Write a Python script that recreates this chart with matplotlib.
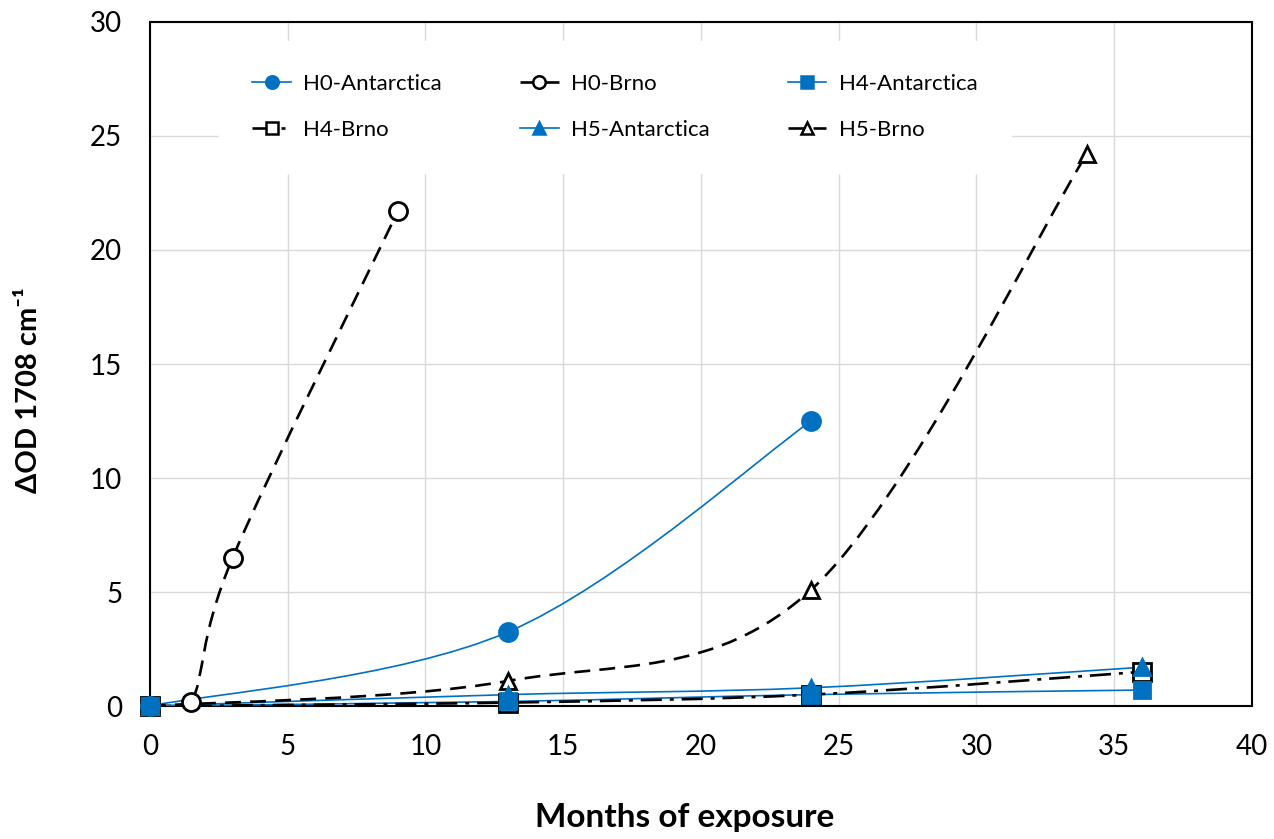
import numpy as np
import matplotlib
matplotlib.use("Agg")
import matplotlib.pyplot as plt
from matplotlib.path import Path
from matplotlib.patches import PathPatch
from matplotlib.lines import Line2D

plt.rcParams['font.family'] = ['Lato', 'DejaVu Sans']

# data
h0_ant_x = [0, 13, 24]
h0_ant_y = [0, 3.25, 12.5]
h0_brno_x = [0, 1.5, 3, 9]
h0_brno_y = [0, 0.17, 6.5, 21.7]
h4_ant_x = [0, 13, 24, 36]
h4_ant_y = [0, 0.2, 0.5, 0.7]
h4_brno_x = [0, 13, 24, 36]
h4_brno_y = [0, 0.15, 0.5, 1.5]
h5_ant_x = [0, 13, 24, 36]
h5_ant_y = [0, 0.5, 0.8, 1.7]
h5_brno_x = [0, 13, 24, 34]
h5_brno_y = [0, 1.1, 5.1, 24.2]

BLUE = '#0070C0'


def smooth_path(xs, ys):
    # Excel style smoothed line: Catmull-Rom segments as cubic Beziers
    pts = np.column_stack([xs, ys]).astype(float)
    n = len(pts)
    verts = [pts[0]]
    codes = [Path.MOVETO]
    for i in range(n - 1):
        p0 = pts[i - 1] if i > 0 else pts[i]
        p1 = pts[i]
        p2 = pts[i + 1]
        p3 = pts[i + 2] if i + 2 < n else pts[i + 1]
        c1 = p1 + (p2 - p0) / 6.0
        c2 = p2 - (p3 - p1) / 6.0
        verts += [c1, c2, p2]
        codes += [Path.CURVE4] * 3
    return Path(verts, codes)


fig = plt.figure(figsize=(12.74, 8.39), dpi=100)
ax = fig.add_axes([0.1177, 0.1585, 0.865, 0.8153])

# name, x, y, colour, linestyle, linewidth, marker, face, size
series = [
    ('H0-Antarctica', h0_ant_x, h0_ant_y, BLUE, '-', 1.2, 'o', BLUE, 13),
    ('H0-Brno', h0_brno_x, h0_brno_y, 'black', (0, (6, 3.5)), 1.9, 'o', 'white', 13),
    ('H4-Antarctica', h4_ant_x, h4_ant_y, BLUE, '-', 1.2, 's', BLUE, 11),
    ('H4-Brno', h4_brno_x, h4_brno_y, 'black', (0, (8, 3, 1.5, 3)), 1.9, 's', 'white', 13),
    ('H5-Antarctica', h5_ant_x, h5_ant_y, BLUE, '-', 1.2, '^', BLUE, 11),
    ('H5-Brno', h5_brno_x, h5_brno_y, 'black', (0, (6, 3.5)), 1.9, '^', 'white', 12),
]

handles = {}
for name, xs, ys, col, ls, lw, mk, mfc, ms in series:
    patch = PathPatch(smooth_path(xs, ys), fill=False, edgecolor=col,
                      linestyle=ls, linewidth=lw, zorder=3)
    ax.add_patch(patch)
    blue = mfc == BLUE
    mec = col if blue else 'black'
    ax.plot(xs, ys, linestyle='none', marker=mk, markersize=ms,
            markerfacecolor=mfc, markeredgecolor=mec, markeredgewidth=2,
            zorder=5 if blue else 4, clip_on=False)
    handles[name] = Line2D([], [], color=col, linestyle=ls, linewidth=lw,
                           marker=mk, markersize=min(ms, 12) * 0.75, markerfacecolor=mfc,
                           markeredgecolor=mec, markeredgewidth=1.8)

ax.set_xlim(0, 40)
ax.set_ylim(0, 30)
ax.set_xticks(np.arange(0, 41, 5))
ax.set_yticks(np.arange(0, 31, 5))
ax.grid(True, color='#D9D9D9', linewidth=1)
ax.set_axisbelow(True)
ax.tick_params(length=0, labelsize=20, pad=20)
for s in ax.spines.values():
    s.set_linewidth(1.5)
    s.set_color('black')

ax.set_xlabel('Months of exposure', fontsize=24, fontweight='bold')
ax.xaxis.set_label_coords(0.485, -0.142)
ax.set_ylabel('ΔOD 1708 cm⁻¹', fontsize=21, fontweight='bold')
ax.yaxis.set_label_coords(-0.098, 0.462)

order = ['H0-Antarctica', 'H4-Brno', 'H0-Brno', 'H5-Antarctica', 'H4-Antarctica', 'H5-Brno']
leg = ax.legend([handles[k] for k in order], order, ncol=3, loc='upper left',
                bbox_to_anchor=(0.0525, 0.989), fontsize=16, frameon=True,
                handlelength=1.75, columnspacing=3.5, labelspacing=1.17,
                handletextpad=0.55, borderpad=1.5, fancybox=False)
leg.get_frame().set_edgecolor('white')
leg.get_frame().set_facecolor('white')
leg.get_frame().set_alpha(1)

fig.savefig('out.png', dpi=100)
